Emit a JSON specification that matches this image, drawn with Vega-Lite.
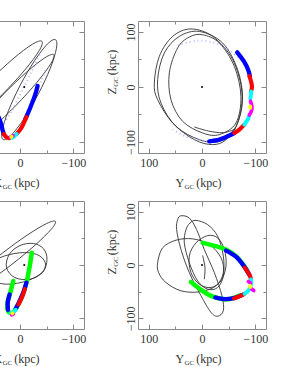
{
"$schema": "https://vega.github.io/schema/vega-lite/v6.json",
"padding": {"left": -78, "top": 20, "right": 0, "bottom": 0},
"background": "white",
"config": {"view": {"stroke": "#888", "strokeWidth": 1}, "axis": {"grid": false}},
"datasets": {
"tl_loops": [
{"s":"a","h":-41.1,"v":83.1},{"s":"a","h":-35.8,"v":65.8},{"s":"a","h":-8.6,"v":30.4},{"s":"a","h":33.2,"v":-13.6},{"s":"a","h":78.4,"v":-54.5},{"s":"a","h":114.9,"v":-81.2},{"s":"a","h":132.8,"v":-86.6},{"s":"a","h":127.5,"v":-69.3},{"s":"a","h":100.3,"v":-33.9},{"s":"a","h":58.5,"v":10.1},{"s":"a","h":13.3,"v":51},{"s":"a","h":-23.2,"v":77.7},
{"s":"b","h":-66.4,"v":86.1},{"s":"b","h":-68.2,"v":69.7},{"s":"b","h":-56.5,"v":33.4},{"s":"b","h":-34.2,"v":-13.1},{"s":"b","h":-7.5,"v":-57.5},{"s":"b","h":16.6,"v":-87.7},{"s":"b","h":31.6,"v":-95.7},{"s":"b","h":33.5,"v":-79.3},{"s":"b","h":21.6,"v":-43},{"s":"b","h":-0.6,"v":3.6},{"s":"b","h":-27.4,"v":47.9},{"s":"b","h":-51.4,"v":78.1},
{"s":"c","h":-63.2,"v":58.8},{"s":"c","h":-57.9,"v":42.6},{"s":"c","h":-32,"v":8.8},{"s":"c","h":7.6,"v":-33.5},{"s":"c","h":50.2,"v":-73},{"s":"c","h":84.5,"v":-99.1},{"s":"c","h":101.2,"v":-104.8},{"s":"c","h":95.9,"v":-88.5},{"s":"c","h":70,"v":-54.8},{"s":"c","h":30.4,"v":-12.5},{"s":"c","h":-12.3,"v":27},{"s":"c","h":-46.5,"v":53.1}
],
"tl_faint": [
{"s":"f1","h":-36.7,"v":58.8},{"s":"f1","h":-22.1,"v":28.5},{"s":"f1","h":-3.2,"v":-7.8},{"s":"f1","h":15.8,"v":-44.2},{"s":"f1","h":31.6,"v":-68.4},
{"s":"f2","h":-47,"v":30},{"s":"f2","h":-40,"v":12},{"s":"f2","h":-31,"v":-5}
],
"tl_str": [
{"s":"b1","c":"blue","h":-33,"v":2},{"s":"b1","c":"blue","h":-28.5,"v":-13.9},{"s":"b1","c":"blue","h":-19,"v":-38.1},{"s":"b1","c":"blue","h":-9.5,"v":-59.3},
{"s":"b2","c":"blue","h":30.4,"v":-85.4},{"s":"b2","c":"blue","h":32.9,"v":-77.5},{"s":"b2","c":"blue","h":36,"v":-65.4},{"s":"b2","c":"blue","h":40,"v":-55},
{"s":"r1","c":"red","h":-12,"v":-55},{"s":"r1","c":"red","h":-5,"v":-70},{"s":"r1","c":"red","h":0,"v":-78},{"s":"r1","c":"red","h":6.3,"v":-85.4},
{"s":"r2","c":"red","h":20,"v":-93},{"s":"r2","c":"red","h":25.3,"v":-91.4},{"s":"r2","c":"red","h":30.4,"v":-85.4},
{"s":"c1","c":"cyan","h":6.3,"v":-85.4},{"s":"c1","c":"cyan","h":12.6,"v":-91.4},{"s":"c1","c":"cyan","h":16,"v":-92},
{"s":"m1","c":"magenta","h":13,"v":-88.5},{"s":"m1","c":"magenta","h":18,"v":-91},
{"s":"y1","c":"yellow","h":15.5,"v":-89.8},{"s":"y1","c":"yellow","h":16.5,"v":-90.8}
],
"tr_loops": [
{"s":"e1","h":20.7,"v":105.5},{"s":"e1","h":-20,"v":92},{"s":"e1","h":-57.5,"v":49.7},{"s":"e1","h":-75,"v":-11},{"s":"e1","h":-66.8,"v":-65.4},{"s":"e1","h":-45,"v":-95.7},{"s":"e1","h":-20,"v":-104.8},{"s":"e1","h":14.4,"v":-95.7},{"s":"e1","h":55,"v":-65.4},{"s":"e1","h":83.2,"v":-23},{"s":"e1","h":89.4,"v":7.3},{"s":"e1","h":80,"v":55.8},{"s":"e1","h":55,"v":92},
{"s":"e2","h":5,"v":101},{"s":"e2","h":-38.7,"v":80},{"s":"e2","h":-66.8,"v":31.5},{"s":"e2","h":-76,"v":-23},{"s":"e2","h":-63.7,"v":-71.5},{"s":"e2","h":-32.5,"v":-98.8},{"s":"e2","h":5,"v":-95.7},{"s":"e2","h":48.8,"v":-71.5},{"s":"e2","h":77,"v":-29},{"s":"e2","h":83.2,"v":13.4},{"s":"e2","h":70.7,"v":61.8},{"s":"e2","h":42.5,"v":92},
{"s":"e3","h":-1.2,"v":95},{"s":"e3","h":-32.5,"v":80},{"s":"e3","h":-60.6,"v":37.6},{"s":"e3","h":-73,"v":-17},{"s":"e3","h":-63.7,"v":-65.4},{"s":"e3","h":-32.5,"v":-86.6},{"s":"e3","h":-1.2,"v":-83.6},{"s":"e3","h":36.3,"v":-62.4},{"s":"e3","h":58.2,"v":-23},{"s":"e3","h":61.3,"v":25.5},{"s":"e3","h":45.7,"v":71},{"s":"e3","h":23.8,"v":90.9}
],
"tr_open": [
{"s":"o","h":14.4,"v":-72.7},{"s":"o","h":-12,"v":-80},{"s":"o","h":-40,"v":-83},{"s":"o","h":-63.7,"v":-76}
],
"tr_faint": [
{"s":"f1","h":45,"v":76},{"s":"f1","h":10,"v":84},{"s":"f1","h":-25,"v":80},{"s":"f1","h":-52,"v":66},{"s":"f1","h":-70,"v":52},
{"s":"f2","h":-25,"v":-99},{"s":"f2","h":5,"v":-97},{"s":"f2","h":30,"v":-90},{"s":"f2","h":55,"v":-77}
],
"tr_str": [
{"s":"b1","c":"blue","h":-66,"v":63},{"s":"b1","c":"blue","h":-79,"v":46},{"s":"b1","c":"blue","h":-87,"v":30},{"s":"b1","c":"blue","h":-90,"v":18},
{"s":"b2","c":"blue","h":-60.6,"v":-83.6},{"s":"b2","c":"blue","h":-48,"v":-89.7},{"s":"b2","c":"blue","h":-32.5,"v":-95.7},{"s":"b2","c":"blue","h":-13.7,"v":-98.8},
{"s":"r1","c":"red","h":-89,"v":20},{"s":"r1","c":"red","h":-92.5,"v":8},{"s":"r1","c":"red","h":-93.7,"v":0},{"s":"r1","c":"red","h":-92,"v":-8},
{"s":"r2","c":"red","h":-79.4,"v":-68.5},{"s":"r2","c":"red","h":-70,"v":-77.5},{"s":"r2","c":"red","h":-60.6,"v":-83.6},
{"s":"c1","c":"cyan","h":-92,"v":-8},{"s":"c1","c":"cyan","h":-91.8,"v":-14},{"s":"c1","c":"cyan","h":-90.6,"v":-21},
{"s":"c2","c":"cyan","h":-88,"v":-54},{"s":"c2","c":"cyan","h":-85.6,"v":-59.4},{"s":"c2","c":"cyan","h":-79.4,"v":-68.5},
{"s":"m1","c":"magenta","h":-91,"v":-26},{"s":"m1","c":"magenta","h":-93.7,"v":-36},{"s":"m1","c":"magenta","h":-92.5,"v":-44},{"s":"m1","c":"magenta","h":-88.7,"v":-51},
{"s":"y1","c":"yellow","h":-90.6,"v":-35},{"s":"y1","c":"yellow","h":-90.6,"v":-38}
],
"bl_loops": [
{"s":"a","h":-66.4,"v":81.8},{"s":"a","h":-58.7,"v":67.2},{"s":"a","h":-28.8,"v":37.7},{"s":"a","h":15.1,"v":1.3},{"s":"a","h":61.4,"v":-32.2},{"s":"a","h":97.5,"v":-53.7},{"s":"a","h":113.9,"v":-57.7},{"s":"a","h":106.1,"v":-43.1},{"s":"a","h":76.3,"v":-13.6},{"s":"a","h":32.3,"v":22.8},{"s":"a","h":-13.9,"v":56.3},{"s":"a","h":-50.1,"v":77.8},
{"s":"b","h":-50.6,"v":10.5},{"s":"b","h":-44.3,"v":30.3},{"s":"b","h":-25.3,"v":40.3},{"s":"b","h":0,"v":36.5},{"s":"b","h":20.2,"v":19.8},{"s":"b","h":25.3,"v":-5},{"s":"b","h":9.5,"v":-23.6},{"s":"b","h":-19,"v":-26.7},{"s":"b","h":-43,"v":-13.1},
{"s":"c","h":-47.4,"v":4.3},{"s":"c","h":-31.6,"v":19.8},{"s":"c","h":0,"v":22.9},{"s":"c","h":37.95,"v":13.6},{"s":"c","h":63.2,"v":-5},{"s":"c","h":56.9,"v":-26.7},{"s":"c","h":25.3,"v":-36},{"s":"c","h":-12.65,"v":-29.8},{"s":"c","h":-41.1,"v":-14.3}
],
"bl_str": [
{"s":"g1","c":"green","h":-22.1,"v":22.8},{"s":"g1","c":"green","h":-17.7,"v":-5.1},{"s":"g1","c":"green","h":-11.4,"v":-36.1},{"s":"g1","c":"green","h":-3.2,"v":-60.9},{"s":"g1","c":"green","h":6.3,"v":-79.5},{"s":"g1","c":"green","h":12.6,"v":-88.8},
{"s":"g2","c":"green","h":12.6,"v":-29.9},{"s":"g2","c":"green","h":19,"v":-54.7},{"s":"g2","c":"green","h":24,"v":-73.3},{"s":"g2","c":"green","h":22.1,"v":-86.9},{"s":"g2","c":"green","h":13.9,"v":-90.7},
{"s":"b1","c":"blue","h":-12,"v":-33},{"s":"b1","c":"blue","h":-6,"v":-52},{"s":"b1","c":"blue","h":2,"v":-70},{"s":"b1","c":"blue","h":8,"v":-82},
{"s":"b2","c":"blue","h":19.5,"v":-55},{"s":"b2","c":"blue","h":23,"v":-70},{"s":"b2","c":"blue","h":22.5,"v":-84},
{"s":"r1","c":"red","h":-9,"v":-45},{"s":"r1","c":"red","h":-4,"v":-60},{"s":"r1","c":"red","h":3,"v":-74},
{"s":"c1","c":"cyan","h":8,"v":-84},{"s":"c1","c":"cyan","h":12.6,"v":-88.8},{"s":"c1","c":"cyan","h":17,"v":-90.5},
{"s":"m1","c":"magenta","h":12.5,"v":-92},{"s":"m1","c":"magenta","h":15.5,"v":-93.5},
{"s":"y1","c":"yellow","h":13.5,"v":-90},{"s":"y1","c":"yellow","h":14.5,"v":-91}
],
"br_loops": [
{"s":"w","h":83.2,"v":4.3},{"s":"w","h":73.8,"v":32.2},{"s":"w","h":48.8,"v":46.5},{"s":"w","h":17.6,"v":49},{"s":"w","h":-13.7,"v":38.4},{"s":"w","h":-35.6,"v":13.6},{"s":"w","h":-40,"v":-14.3},{"s":"w","h":-26.2,"v":-39.1},{"s":"w","h":5,"v":-50.3},{"s":"w","h":39.4,"v":-48.4},{"s":"w","h":67.6,"v":-32.9},{"s":"w","h":81.3,"v":-14.3},
{"s":"t1","h":39.4,"v":92.3},{"s":"t1","h":23.8,"v":88},{"s":"t1","h":10.1,"v":66.3},{"s":"t1","h":-4.3,"v":29.1},{"s":"t1","h":-23.1,"v":-14.3},{"s":"t1","h":-37.4,"v":-57.7},{"s":"t1","h":-40,"v":-85.6},{"s":"t1","h":-29.4,"v":-96.1},{"s":"t1","h":-16.8,"v":-88.7},{"s":"t1","h":1.9,"v":-57.7},{"s":"t1","h":23.8,"v":-14.3},{"s":"t1","h":39.4,"v":29.1},{"s":"t1","h":47.6,"v":66.3},{"s":"t1","h":45.7,"v":84.9},
{"s":"t2","h":11.3,"v":83.7},{"s":"t2","h":-10.6,"v":75.6},{"s":"t2","h":-29.4,"v":53.9},{"s":"t2","h":-40,"v":16.7},{"s":"t2","h":-40,"v":-20.5},{"s":"t2","h":-29.4,"v":-42.2},{"s":"t2","h":-10.6,"v":-45.3},{"s":"t2","h":8.2,"v":-29.8},{"s":"t2","h":23.8,"v":4.3},{"s":"t2","h":33.2,"v":41.5},{"s":"t2","h":30,"v":66.3},{"s":"t2","h":22.5,"v":78.7},
{"s":"m","h":-10.6,"v":55.1},{"s":"m","h":-29.4,"v":50.8},{"s":"m","h":-41.9,"v":29.1},{"s":"m","h":-45,"v":-1.9},{"s":"m","h":-35.6,"v":-29.8},{"s":"m","h":-16.8,"v":-42.2},{"s":"m","h":5,"v":-36},{"s":"m","h":20.7,"v":-14.3},{"s":"m","h":23.8,"v":16.7},{"s":"m","h":11.3,"v":41.5}
],
"br_open": [
{"s":"o","h":-1.2,"v":18},{"s":"o","h":-5.6,"v":-5},{"s":"o","h":-4.3,"v":-26.7}
],
"br_str": [
{"s":"g1","c":"green","h":-1.2,"v":41.5},{"s":"g1","c":"green","h":-26.2,"v":35.3},{"s":"g1","c":"green","h":-44.9,"v":29.1},{"s":"g1","c":"green","h":-63.7,"v":16.7},{"s":"g1","c":"green","h":-79.3,"v":-1.9},{"s":"g1","c":"green","h":-86,"v":-14},
{"s":"g2","c":"green","h":-72,"v":-57},{"s":"g2","c":"green","h":-51.2,"v":-63.9},{"s":"g2","c":"green","h":-32.5,"v":-62.7},{"s":"g2","c":"green","h":-13.7,"v":-56.5},{"s":"g2","c":"green","h":5,"v":-44.1},{"s":"g2","c":"green","h":20.7,"v":-31.7},
{"s":"b1","c":"blue","h":-45,"v":27},{"s":"b1","c":"blue","h":-63.7,"v":15.5},{"s":"b1","c":"blue","h":-79.3,"v":-3},{"s":"b1","c":"blue","h":-88.7,"v":-18},
{"s":"b2","c":"blue","h":-76,"v":-56},{"s":"b2","c":"blue","h":-60,"v":-62},{"s":"b2","c":"blue","h":-42,"v":-64},{"s":"b2","c":"blue","h":-25,"v":-61},
{"s":"r1","c":"red","h":-80,"v":-5},{"s":"r1","c":"red","h":-88.7,"v":-18},{"s":"r1","c":"red","h":-92,"v":-27},
{"s":"r2","c":"red","h":-80,"v":-54},{"s":"r2","c":"red","h":-70,"v":-59},{"s":"r2","c":"red","h":-60,"v":-62.5},
{"s":"c1","c":"cyan","h":-91.8,"v":-27},{"s":"c1","c":"cyan","h":-92.3,"v":-33},{"s":"c1","c":"cyan","h":-91,"v":-40},
{"s":"c2","c":"cyan","h":-90,"v":-43},{"s":"c2","c":"cyan","h":-86,"v":-49},{"s":"c2","c":"cyan","h":-80,"v":-54},
{"s":"m1","c":"magenta","h":-87,"v":-31},{"s":"m1","c":"magenta","h":-91,"v":-34},
{"s":"m2","c":"magenta","h":-93,"v":-45},{"s":"m2","c":"magenta","h":-97,"v":-48},
{"s":"y1","c":"yellow","h":-90.6,"v":-39},{"s":"y1","c":"yellow","h":-90.6,"v":-41.5}
]
},
"columns": 2,
"spacing": {"row": 48, "column": 54},
"bounds": "flush",
"concat": [
{
"width": 128, "height": 132,
"resolve": {"axis": {"x": "independent", "y": "independent"}},
"layer": [
{"data": {"name": "tl_loops"}, "mark": {"type": "line", "interpolate": "cardinal-closed", "color": "#333", "strokeWidth": 0.9, "clip": true},
 "encoding": {
  "x": {"field": "h", "type": "quantitative", "scale": {"domain": [-120, 120], "reverse": true, "nice": false, "zero": false},
   "axis": {"orient": "bottom", "values": [-100, -50, 0, 50, 100], "domain": false, "labelExpr": "datum.value % 100 === 0 ? datum.label : ''", "labelFont": "Liberation Serif", "labelFontSize": 12, "labelColor": "#333", "labelPadding": 9, "labelFlush": false, "labelOverlap": false, "tickColor": "#888", "tickSize": {"condition": {"test": "datum.value % 100 === 0", "value": -5}, "value": -3},
    "title": "X\u00a0\u00a0\u00a0\u00a0(kpc)", "titleFont": "Liberation Serif", "titleFontSize": 12, "titleFontWeight": "normal", "titleColor": "#333", "titleAlign": "left", "titleBaseline": "alphabetic", "titleX": 37, "titleY": 33}},
  "y": {"field": "v", "type": "quantitative", "scale": {"domain": [-120, 120], "nice": false, "zero": false},
   "axis": {"orient": "left", "values": [-100, -50, 0, 50, 100], "domain": false, "labelExpr": "datum.value % 100 === 0 ? datum.label : ''", "labelAngle": -90, "labelAlign": "center", "labelBaseline": "alphabetic", "labelFont": "Liberation Serif", "labelFontSize": 12, "labelColor": "#333", "labelPadding": 9, "labelFlush": false, "labelOverlap": false, "tickColor": "#888", "tickSize": {"condition": {"test": "datum.value % 100 === 0", "value": -5}, "value": -3},
    "title": "Z\u00a0\u00a0\u00a0\u00a0(kpc)", "titleFont": "Liberation Serif", "titleFontSize": 12, "titleFontWeight": "normal", "titleColor": "#333", "titleAngle": -90, "titleAlign": "left", "titleBaseline": "alphabetic", "titleX": -23, "titleY": 73}},
  "detail": {"field": "s"}, "order": {"value": null}}},
{"data": {"name": "tl_faint"}, "mark": {"type": "line", "interpolate": "cardinal", "color": "#9a9aff", "strokeWidth": 2, "strokeDash": [1, 3], "opacity": 0.7, "clip": true},
 "encoding": {
  "x": {"field": "h", "type": "quantitative", "scale": {"domain": [-120, 120], "reverse": true, "nice": false, "zero": false}, "axis": null},
  "y": {"field": "v", "type": "quantitative", "scale": {"domain": [-120, 120], "nice": false, "zero": false}, "axis": null},
  "detail": {"field": "s"}, "order": {"value": null}}},
{"data": {"name": "tl_str"}, "mark": {"type": "line", "interpolate": "cardinal", "strokeCap": "round", "strokeJoin": "round", "clip": true},
 "encoding": {
  "x": {"field": "h", "type": "quantitative", "scale": {"domain": [-120, 120], "reverse": true, "nice": false, "zero": false},
   "axis": {"orient": "bottom", "labels": false, "ticks": false, "domain": false, "title": "GC", "titleFont": "Liberation Serif", "titleFontSize": 7, "titleFontWeight": "normal", "titleColor": "#333", "titleAlign": "left", "titleBaseline": "alphabetic", "titleX": 46, "titleY": 35}},
  "y": {"field": "v", "type": "quantitative", "scale": {"domain": [-120, 120], "nice": false, "zero": false},
   "axis": {"orient": "left", "labels": false, "ticks": false, "domain": false, "title": "GC", "titleFont": "Liberation Serif", "titleFontSize": 7, "titleFontWeight": "normal", "titleColor": "#333", "titleAngle": -90, "titleAlign": "left", "titleBaseline": "alphabetic", "titleX": -21, "titleY": 65.3}},
  "color": {"field": "c", "type": "nominal", "scale": {"domain": ["green", "blue", "red", "cyan", "magenta", "yellow"], "range": ["#00ff00", "#0000ff", "#ff0000", "#00ffff", "#ff00ff", "#ffff00"]}, "legend": null},
  "strokeWidth": {"field": "c", "type": "nominal", "scale": {"domain": ["green", "blue", "red", "cyan", "magenta", "yellow"], "range": [4.5, 3.5, 3.5, 3.5, 4, 3]}, "legend": null},
  "detail": {"field": "s"}, "order": {"value": null}}},
{"data": {"values": [{"h": -8, "v": 0}]}, "mark": {"type": "point", "filled": true, "size": 4, "color": "#000", "opacity": 1},
 "encoding": {
  "x": {"field": "h", "type": "quantitative", "scale": {"domain": [-120, 120], "reverse": true, "nice": false, "zero": false},
   "axis": {"orient": "top", "values": [-100, -50, 0, 50, 100], "labels": false, "domain": false, "title": null, "tickColor": "#888", "tickSize": {"condition": {"test": "datum.value % 100 === 0", "value": -5}, "value": -3}}},
  "y": {"field": "v", "type": "quantitative", "scale": {"domain": [-120, 120], "nice": false, "zero": false},
   "axis": {"orient": "right", "values": [-100, -50, 0, 50, 100], "labels": false, "domain": false, "title": null, "tickColor": "#888", "tickSize": {"condition": {"test": "datum.value % 100 === 0", "value": -5}, "value": -3}}}}}
]
},
{
"width": 128, "height": 132,
"resolve": {"axis": {"x": "independent", "y": "independent"}},
"layer": [
{"data": {"name": "tr_loops"}, "mark": {"type": "line", "interpolate": "cardinal-closed", "color": "#333", "strokeWidth": 0.9, "clip": true},
 "encoding": {
  "x": {"field": "h", "type": "quantitative", "scale": {"domain": [-120, 120], "reverse": true, "nice": false, "zero": false},
   "axis": {"orient": "bottom", "values": [-100, -50, 0, 50, 100], "domain": false, "labelExpr": "datum.value % 100 === 0 ? datum.label : ''", "labelFont": "Liberation Serif", "labelFontSize": 12, "labelColor": "#333", "labelPadding": 9, "labelFlush": false, "labelOverlap": false, "tickColor": "#888", "tickSize": {"condition": {"test": "datum.value % 100 === 0", "value": -5}, "value": -3},
    "title": "Y\u00a0\u00a0\u00a0\u00a0(kpc)", "titleFont": "Liberation Serif", "titleFontSize": 12, "titleFontWeight": "normal", "titleColor": "#333", "titleAlign": "left", "titleBaseline": "alphabetic", "titleX": 37, "titleY": 33}},
  "y": {"field": "v", "type": "quantitative", "scale": {"domain": [-120, 120], "nice": false, "zero": false},
   "axis": {"orient": "left", "values": [-100, -50, 0, 50, 100], "domain": false, "labelExpr": "datum.value % 100 === 0 ? datum.label : ''", "labelAngle": -90, "labelAlign": "center", "labelBaseline": "alphabetic", "labelFont": "Liberation Serif", "labelFontSize": 12, "labelColor": "#333", "labelPadding": 9, "labelFlush": false, "labelOverlap": false, "tickColor": "#888", "tickSize": {"condition": {"test": "datum.value % 100 === 0", "value": -5}, "value": -3},
    "title": "Z\u00a0\u00a0\u00a0\u00a0(kpc)", "titleFont": "Liberation Serif", "titleFontSize": 12, "titleFontWeight": "normal", "titleColor": "#333", "titleAngle": -90, "titleAlign": "left", "titleBaseline": "alphabetic", "titleX": -23, "titleY": 73}},
  "detail": {"field": "s"}, "order": {"value": null}}},
{"data": {"name": "tr_open"}, "mark": {"type": "line", "interpolate": "cardinal", "color": "#333", "strokeWidth": 0.9, "clip": true},
 "encoding": {
  "x": {"field": "h", "type": "quantitative", "scale": {"domain": [-120, 120], "reverse": true, "nice": false, "zero": false}, "axis": null},
  "y": {"field": "v", "type": "quantitative", "scale": {"domain": [-120, 120], "nice": false, "zero": false}, "axis": null},
  "detail": {"field": "s"}, "order": {"value": null}}},
{"data": {"name": "tr_faint"}, "mark": {"type": "line", "interpolate": "cardinal", "color": "#9a9aff", "strokeWidth": 2, "strokeDash": [1, 3], "opacity": 0.7, "clip": true},
 "encoding": {
  "x": {"field": "h", "type": "quantitative", "scale": {"domain": [-120, 120], "reverse": true, "nice": false, "zero": false}, "axis": null},
  "y": {"field": "v", "type": "quantitative", "scale": {"domain": [-120, 120], "nice": false, "zero": false}, "axis": null},
  "detail": {"field": "s"}, "order": {"value": null}}},
{"data": {"name": "tr_str"}, "mark": {"type": "line", "interpolate": "cardinal", "strokeCap": "round", "strokeJoin": "round", "clip": true},
 "encoding": {
  "x": {"field": "h", "type": "quantitative", "scale": {"domain": [-120, 120], "reverse": true, "nice": false, "zero": false},
   "axis": {"orient": "bottom", "labels": false, "ticks": false, "domain": false, "title": "GC", "titleFont": "Liberation Serif", "titleFontSize": 7, "titleFontWeight": "normal", "titleColor": "#333", "titleAlign": "left", "titleBaseline": "alphabetic", "titleX": 46, "titleY": 35}},
  "y": {"field": "v", "type": "quantitative", "scale": {"domain": [-120, 120], "nice": false, "zero": false},
   "axis": {"orient": "left", "labels": false, "ticks": false, "domain": false, "title": "GC", "titleFont": "Liberation Serif", "titleFontSize": 7, "titleFontWeight": "normal", "titleColor": "#333", "titleAngle": -90, "titleAlign": "left", "titleBaseline": "alphabetic", "titleX": -21, "titleY": 65.3}},
  "color": {"field": "c", "type": "nominal", "scale": {"domain": ["green", "blue", "red", "cyan", "magenta", "yellow"], "range": ["#00ff00", "#0000ff", "#ff0000", "#00ffff", "#ff00ff", "#ffff00"]}, "legend": null},
  "strokeWidth": {"field": "c", "type": "nominal", "scale": {"domain": ["green", "blue", "red", "cyan", "magenta", "yellow"], "range": [4.5, 3.5, 3.5, 3.5, 4, 3]}, "legend": null},
  "detail": {"field": "s"}, "order": {"value": null}}},
{"data": {"values": [{"h": 0, "v": 0}]}, "mark": {"type": "point", "filled": true, "size": 4, "color": "#000", "opacity": 1},
 "encoding": {
  "x": {"field": "h", "type": "quantitative", "scale": {"domain": [-120, 120], "reverse": true, "nice": false, "zero": false},
   "axis": {"orient": "top", "values": [-100, -50, 0, 50, 100], "labels": false, "domain": false, "title": null, "tickColor": "#888", "tickSize": {"condition": {"test": "datum.value % 100 === 0", "value": -5}, "value": -3}}},
  "y": {"field": "v", "type": "quantitative", "scale": {"domain": [-120, 120], "nice": false, "zero": false},
   "axis": {"orient": "right", "values": [-100, -50, 0, 50, 100], "labels": false, "domain": false, "title": null, "tickColor": "#888", "tickSize": {"condition": {"test": "datum.value % 100 === 0", "value": -5}, "value": -3}}}}}
]
},
{
"width": 128, "height": 128,
"resolve": {"axis": {"x": "independent", "y": "independent"}},
"layer": [
{"data": {"name": "bl_loops"}, "mark": {"type": "line", "interpolate": "cardinal-closed", "color": "#333", "strokeWidth": 0.9, "clip": true},
 "encoding": {
  "x": {"field": "h", "type": "quantitative", "scale": {"domain": [-120, 120], "reverse": true, "nice": false, "zero": false},
   "axis": {"orient": "bottom", "values": [-100, -50, 0, 50, 100], "domain": false, "labelExpr": "datum.value % 100 === 0 ? datum.label : ''", "labelFont": "Liberation Serif", "labelFontSize": 12, "labelColor": "#333", "labelPadding": 9, "labelFlush": false, "labelOverlap": false, "tickColor": "#888", "tickSize": {"condition": {"test": "datum.value % 100 === 0", "value": -5}, "value": -3},
    "title": "X\u00a0\u00a0\u00a0\u00a0(kpc)", "titleFont": "Liberation Serif", "titleFontSize": 12, "titleFontWeight": "normal", "titleColor": "#333", "titleAlign": "left", "titleBaseline": "alphabetic", "titleX": 37, "titleY": 33}},
  "y": {"field": "v", "type": "quantitative", "scale": {"domain": [-120, 120], "nice": false, "zero": false},
   "axis": {"orient": "left", "values": [-100, -50, 0, 50, 100], "domain": false, "labelExpr": "datum.value % 100 === 0 ? datum.label : ''", "labelAngle": -90, "labelAlign": "center", "labelBaseline": "alphabetic", "labelFont": "Liberation Serif", "labelFontSize": 12, "labelColor": "#333", "labelPadding": 9, "labelFlush": false, "labelOverlap": false, "tickColor": "#888", "tickSize": {"condition": {"test": "datum.value % 100 === 0", "value": -5}, "value": -3},
    "title": "Z\u00a0\u00a0\u00a0\u00a0(kpc)", "titleFont": "Liberation Serif", "titleFontSize": 12, "titleFontWeight": "normal", "titleColor": "#333", "titleAngle": -90, "titleAlign": "left", "titleBaseline": "alphabetic", "titleX": -23, "titleY": 73}},
  "detail": {"field": "s"}, "order": {"value": null}}},
{"data": {"name": "bl_str"}, "mark": {"type": "line", "interpolate": "cardinal", "strokeCap": "round", "strokeJoin": "round", "clip": true},
 "encoding": {
  "x": {"field": "h", "type": "quantitative", "scale": {"domain": [-120, 120], "reverse": true, "nice": false, "zero": false},
   "axis": {"orient": "bottom", "labels": false, "ticks": false, "domain": false, "title": "GC", "titleFont": "Liberation Serif", "titleFontSize": 7, "titleFontWeight": "normal", "titleColor": "#333", "titleAlign": "left", "titleBaseline": "alphabetic", "titleX": 46, "titleY": 35}},
  "y": {"field": "v", "type": "quantitative", "scale": {"domain": [-120, 120], "nice": false, "zero": false},
   "axis": {"orient": "left", "labels": false, "ticks": false, "domain": false, "title": "GC", "titleFont": "Liberation Serif", "titleFontSize": 7, "titleFontWeight": "normal", "titleColor": "#333", "titleAngle": -90, "titleAlign": "left", "titleBaseline": "alphabetic", "titleX": -21, "titleY": 65.3}},
  "color": {"field": "c", "type": "nominal", "scale": {"domain": ["green", "blue", "red", "cyan", "magenta", "yellow"], "range": ["#00ff00", "#0000ff", "#ff0000", "#00ffff", "#ff00ff", "#ffff00"]}, "legend": null},
  "strokeWidth": {"field": "c", "type": "nominal", "scale": {"domain": ["green", "blue", "red", "cyan", "magenta", "yellow"], "range": [4.5, 3.5, 3.5, 3.5, 4, 3]}, "legend": null},
  "detail": {"field": "s"}, "order": {"value": null}}},
{"data": {"values": [{"h": -8, "v": 0}]}, "mark": {"type": "point", "filled": true, "size": 4, "color": "#000", "opacity": 1},
 "encoding": {
  "x": {"field": "h", "type": "quantitative", "scale": {"domain": [-120, 120], "reverse": true, "nice": false, "zero": false},
   "axis": {"orient": "top", "values": [-100, -50, 0, 50, 100], "labels": false, "domain": false, "title": null, "tickColor": "#888", "tickSize": {"condition": {"test": "datum.value % 100 === 0", "value": -5}, "value": -3}}},
  "y": {"field": "v", "type": "quantitative", "scale": {"domain": [-120, 120], "nice": false, "zero": false},
   "axis": {"orient": "right", "values": [-100, -50, 0, 50, 100], "labels": false, "domain": false, "title": null, "tickColor": "#888", "tickSize": {"condition": {"test": "datum.value % 100 === 0", "value": -5}, "value": -3}}}}}
]
},
{
"width": 128, "height": 128,
"resolve": {"axis": {"x": "independent", "y": "independent"}},
"layer": [
{"data": {"name": "br_loops"}, "mark": {"type": "line", "interpolate": "cardinal-closed", "color": "#333", "strokeWidth": 0.9, "clip": true},
 "encoding": {
  "x": {"field": "h", "type": "quantitative", "scale": {"domain": [-120, 120], "reverse": true, "nice": false, "zero": false},
   "axis": {"orient": "bottom", "values": [-100, -50, 0, 50, 100], "domain": false, "labelExpr": "datum.value % 100 === 0 ? datum.label : ''", "labelFont": "Liberation Serif", "labelFontSize": 12, "labelColor": "#333", "labelPadding": 9, "labelFlush": false, "labelOverlap": false, "tickColor": "#888", "tickSize": {"condition": {"test": "datum.value % 100 === 0", "value": -5}, "value": -3},
    "title": "Y\u00a0\u00a0\u00a0\u00a0(kpc)", "titleFont": "Liberation Serif", "titleFontSize": 12, "titleFontWeight": "normal", "titleColor": "#333", "titleAlign": "left", "titleBaseline": "alphabetic", "titleX": 37, "titleY": 33}},
  "y": {"field": "v", "type": "quantitative", "scale": {"domain": [-120, 120], "nice": false, "zero": false},
   "axis": {"orient": "left", "values": [-100, -50, 0, 50, 100], "domain": false, "labelExpr": "datum.value % 100 === 0 ? datum.label : ''", "labelAngle": -90, "labelAlign": "center", "labelBaseline": "alphabetic", "labelFont": "Liberation Serif", "labelFontSize": 12, "labelColor": "#333", "labelPadding": 9, "labelFlush": false, "labelOverlap": false, "tickColor": "#888", "tickSize": {"condition": {"test": "datum.value % 100 === 0", "value": -5}, "value": -3},
    "title": "Z\u00a0\u00a0\u00a0\u00a0(kpc)", "titleFont": "Liberation Serif", "titleFontSize": 12, "titleFontWeight": "normal", "titleColor": "#333", "titleAngle": -90, "titleAlign": "left", "titleBaseline": "alphabetic", "titleX": -23, "titleY": 73}},
  "detail": {"field": "s"}, "order": {"value": null}}},
{"data": {"name": "br_open"}, "mark": {"type": "line", "interpolate": "cardinal", "color": "#333", "strokeWidth": 0.9, "clip": true},
 "encoding": {
  "x": {"field": "h", "type": "quantitative", "scale": {"domain": [-120, 120], "reverse": true, "nice": false, "zero": false}, "axis": null},
  "y": {"field": "v", "type": "quantitative", "scale": {"domain": [-120, 120], "nice": false, "zero": false}, "axis": null},
  "detail": {"field": "s"}, "order": {"value": null}}},
{"data": {"name": "br_str"}, "mark": {"type": "line", "interpolate": "cardinal", "strokeCap": "round", "strokeJoin": "round", "clip": true},
 "encoding": {
  "x": {"field": "h", "type": "quantitative", "scale": {"domain": [-120, 120], "reverse": true, "nice": false, "zero": false},
   "axis": {"orient": "bottom", "labels": false, "ticks": false, "domain": false, "title": "GC", "titleFont": "Liberation Serif", "titleFontSize": 7, "titleFontWeight": "normal", "titleColor": "#333", "titleAlign": "left", "titleBaseline": "alphabetic", "titleX": 46, "titleY": 35}},
  "y": {"field": "v", "type": "quantitative", "scale": {"domain": [-120, 120], "nice": false, "zero": false},
   "axis": {"orient": "left", "labels": false, "ticks": false, "domain": false, "title": "GC", "titleFont": "Liberation Serif", "titleFontSize": 7, "titleFontWeight": "normal", "titleColor": "#333", "titleAngle": -90, "titleAlign": "left", "titleBaseline": "alphabetic", "titleX": -21, "titleY": 65.3}},
  "color": {"field": "c", "type": "nominal", "scale": {"domain": ["green", "blue", "red", "cyan", "magenta", "yellow"], "range": ["#00ff00", "#0000ff", "#ff0000", "#00ffff", "#ff00ff", "#ffff00"]}, "legend": null},
  "strokeWidth": {"field": "c", "type": "nominal", "scale": {"domain": ["green", "blue", "red", "cyan", "magenta", "yellow"], "range": [4.5, 3.5, 3.5, 3.5, 4, 3]}, "legend": null},
  "detail": {"field": "s"}, "order": {"value": null}}},
{"data": {"values": [{"h": 0, "v": 0}]}, "mark": {"type": "point", "filled": true, "size": 4, "color": "#000", "opacity": 1},
 "encoding": {
  "x": {"field": "h", "type": "quantitative", "scale": {"domain": [-120, 120], "reverse": true, "nice": false, "zero": false},
   "axis": {"orient": "top", "values": [-100, -50, 0, 50, 100], "labels": false, "domain": false, "title": null, "tickColor": "#888", "tickSize": {"condition": {"test": "datum.value % 100 === 0", "value": -5}, "value": -3}}},
  "y": {"field": "v", "type": "quantitative", "scale": {"domain": [-120, 120], "nice": false, "zero": false},
   "axis": {"orient": "right", "values": [-100, -50, 0, 50, 100], "labels": false, "domain": false, "title": null, "tickColor": "#888", "tickSize": {"condition": {"test": "datum.value % 100 === 0", "value": -5}, "value": -3}}}}}
]
}
]
}
